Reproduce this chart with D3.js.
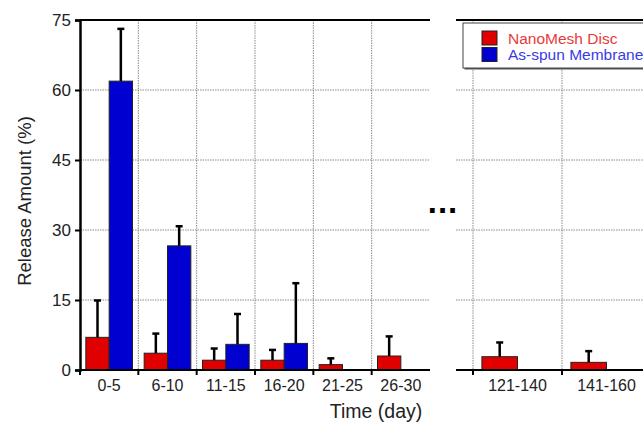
<!DOCTYPE html>
<html>
<head>
<meta charset="utf-8">
<script src="https://cdn.jsdelivr.net/npm/d3@7"></script>
<style>
  body { margin: 0; background: #fff; }
  svg { display: block; font-family: "Liberation Sans", Arial, sans-serif; }
</style>
</head>
<body>
<div id="chart"></div>
<script>
// data
var series = ["NanoMesh Disc", "As-spun Membrane"];
var colors = ["#e00000", "#0000d0"];
var earlyDays = ["0-5", "6-10", "11-15", "16-20", "21-25", "26-30"];
var earlyDisc = [7.0, 3.6, 2.1, 2.1, 1.15, 3.0];
var earlyDiscErr = [7.9, 4.2, 2.5, 2.2, 1.35, 4.2];
var earlyMembrane = [61.9, 26.6, 5.5, 5.7, 0, 0];
var earlyMembraneErr = [11.2, 4.2, 6.5, 12.9, 0, 0];
var lateDays = ["121-140", "141-160"];
var lateDisc = [2.85, 1.64];
var lateDiscErr = [3.05, 2.4];
var lateMembrane = [0, 0];
var lateMembraneErr = [0, 0];
var yTicks = [0, 15, 30, 45, 60, 75];

var width = 643;
var height = 424;
var plotTop = 20;
var plotBottom = 370;

var svg = d3.select("#chart").append("svg")
  .attr("width", width)
  .attr("height", height);

var yScale = d3.scaleLinear().domain([0, 75]).range([plotBottom, plotTop]);

function rows(days, disc, discErr, mem, memErr) {
  return days.map(function(d, i) {
    return {
      key: d,
      values: [
        { s: 0, v: disc[i], e: discErr[i] },
        { s: 1, v: mem[i], e: memErr[i] }
      ]
    };
  });
}

var panels = [
  { data: rows(earlyDays, earlyDisc, earlyDiscErr, earlyMembrane, earlyMembraneErr),
    range: [80, 430], lineStart: 80, lineEnd: 430 },
  { data: rows(lateDays, lateDisc, lateDiscErr, lateMembrane, lateMembraneErr),
    range: [473, 651], lineStart: 456, lineEnd: width }
];

panels.forEach(function(p, pi) {
  var x = d3.scaleBand().domain(p.data.map(function(d) { return d.key; })).range(p.range);
  var x1 = d3.scaleBand().domain([0, 1]).range([0, x.bandwidth()]).paddingOuter(0.25);
  var g = svg.append("g");

  // dotted grid
  g.selectAll(".hgrid").data(yTicks.filter(function(t) { return t > 0 && t < 75; }))
    .enter().append("line")
    .attr("x1", p.lineStart).attr("x2", p.lineEnd)
    .attr("y1", function(d) { return yScale(d); })
    .attr("y2", function(d) { return yScale(d); })
    .attr("stroke", "#8a8a8a").attr("stroke-dasharray", "1.5,1");

  var vg = p.data.map(function(d) { return d.key; }).filter(function(d, i) { return pi === 1 || i > 0; });
  g.selectAll(".vgrid").data(vg)
    .enter().append("line")
    .attr("x1", function(d) { return x(d); }).attr("x2", function(d) { return x(d); })
    .attr("y1", plotTop).attr("y2", plotBottom)
    .attr("stroke", "#8a8a8a").attr("stroke-dasharray", "1.5,1");

  // bars
  var groups = g.selectAll(".grp").data(p.data).enter().append("g")
    .attr("transform", function(d) { return "translate(" + x(d.key) + ",0)"; });

  groups.selectAll("rect").data(function(d) { return d.values; })
    .enter().append("rect")
    .attr("x", function(d) { return x1(d.s); })
    .attr("width", x1.bandwidth())
    .attr("y", function(d) { return yScale(d.v); })
    .attr("height", function(d) { return plotBottom - yScale(d.v); })
    .attr("fill", function(d) { return colors[d.s]; })
    .attr("stroke", "#222").attr("stroke-width", 1);

  // error bars (upper only)
  var err = groups.selectAll(".err").data(function(d) { return d.values.filter(function(v) { return v.e > 0; }); })
    .enter().append("g");
  err.append("line")
    .attr("x1", function(d) { return x1(d.s) + x1.bandwidth() / 2; })
    .attr("x2", function(d) { return x1(d.s) + x1.bandwidth() / 2; })
    .attr("y1", function(d) { return yScale(d.v); })
    .attr("y2", function(d) { return yScale(d.v + d.e); })
    .attr("stroke", "#000").attr("stroke-width", 2.5);
  err.append("line")
    .attr("x1", function(d) { return x1(d.s) + x1.bandwidth() / 2 - 3.5; })
    .attr("x2", function(d) { return x1(d.s) + x1.bandwidth() / 2 + 3.5; })
    .attr("y1", function(d) { return yScale(d.v + d.e); })
    .attr("y2", function(d) { return yScale(d.v + d.e); })
    .attr("stroke", "#000").attr("stroke-width", 2.5);

  // top frame and baseline
  g.append("line").attr("x1", p.lineStart).attr("x2", p.lineEnd)
    .attr("y1", plotTop).attr("y2", plotTop).attr("stroke", "#000").attr("stroke-width", 2);
  g.append("line").attr("x1", p.lineStart).attr("x2", p.lineEnd)
    .attr("y1", plotBottom).attr("y2", plotBottom).attr("stroke", "#000").attr("stroke-width", 2);

  // ticks at band starts
  g.selectAll(".tick").data(x.domain()).enter().append("line")
    .attr("x1", function(d) { return x(d); }).attr("x2", function(d) { return x(d); })
    .attr("y1", plotBottom).attr("y2", plotBottom + 5)
    .attr("stroke", "#000").attr("stroke-width", 2);

  g.selectAll(".lbl").data(x.domain()).enter().append("text")
    .attr("x", function(d) { return x(d) + x.bandwidth() / 2; })
    .attr("y", plotBottom + 21)
    .attr("text-anchor", "middle")
    .attr("font-size", 16)
    .attr("fill", "#222")
    .text(function(d) { return d; });
});

// y axis
var yAxis = svg.append("g")
  .attr("transform", "translate(80,0)")
  .call(d3.axisLeft(yScale).tickValues(yTicks).tickSize(5).tickPadding(4));
yAxis.select(".domain").attr("stroke-width", 2.5);
yAxis.selectAll(".tick line").attr("stroke-width", 2);
yAxis.selectAll("text").attr("font-size", 17).attr("fill", "#222")
  .attr("font-family", "Liberation Sans, Arial, sans-serif");

svg.append("text")
  .attr("transform", "translate(31,201) rotate(-90)")
  .attr("text-anchor", "middle")
  .attr("font-size", 18.5)
  .attr("fill", "#222")
  .text("Release Amount (%)");

svg.append("text")
  .attr("x", 376).attr("y", 418)
  .attr("text-anchor", "middle")
  .attr("font-size", 19.5)
  .attr("fill", "#222")
  .text("Time (day)");

// axis break marker
svg.append("text")
  .attr("x", 443).attr("y", 213)
  .attr("text-anchor", "middle")
  .attr("font-size", 33).attr("font-weight", "bold")
  .attr("letter-spacing", 1)
  .text("...");

// legend
var legend = svg.append("g").attr("transform", "translate(463,23)");
legend.append("rect").attr("x", 1.5).attr("y", 1.5).attr("width", 200).attr("height", 45)
  .attr("fill", "#555");
legend.append("rect").attr("width", 200).attr("height", 45)
  .attr("fill", "#fff").attr("stroke", "#444").attr("stroke-width", 1);
var li = legend.selectAll(".li").data(series).enter().append("g")
  .attr("transform", function(d, i) { return "translate(19," + (8 + i * 16.5) + ")"; });
li.append("rect").attr("width", 15).attr("height", 14)
  .attr("fill", function(d, i) { return colors[i]; })
  .attr("stroke", "#222");
li.append("text").attr("x", 26).attr("y", 12.5)
  .attr("font-size", 15.5)
  .attr("fill", function(d, i) { return i === 0 ? "#e83a3a" : "#3a3ae8"; })
  .text(function(d) { return d; });
</script>
</body>
</html>
